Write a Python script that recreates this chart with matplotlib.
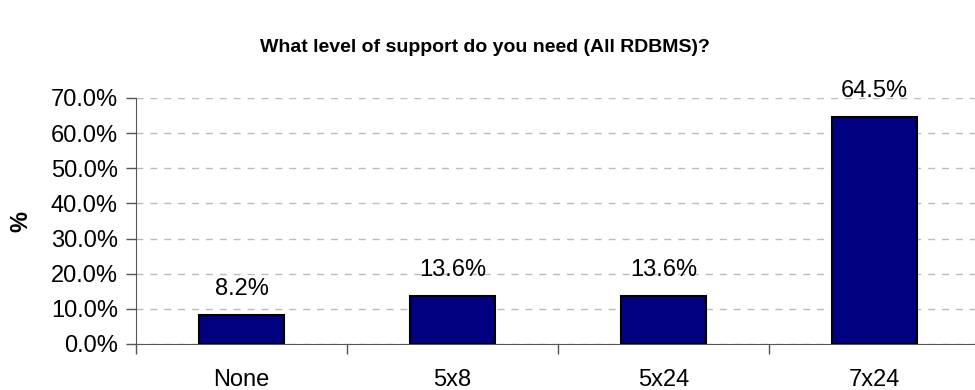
import matplotlib.pyplot as plt
from matplotlib.ticker import FuncFormatter

categories = ['None', '5x8', '5x24', '7x24']
values = [8.2, 13.6, 13.6, 64.5]
yticks = [0, 10, 20, 30, 40, 50, 60, 70]

plt.rcParams['font.family'] = ['Liberation Sans', 'DejaVu Sans']

fig = plt.figure(figsize=(9.75, 3.9), dpi=100)
ax = fig.add_axes([136 / 975, 1 - 344 / 390, (975 - 136) / 975, (344 - 98) / 390])

x = range(len(categories))
ax.bar(x, values, width=0.4, color='#000080', edgecolor='black', linewidth=1.5, zorder=3)

for i, v in enumerate(values):
    ax.annotate('%.1f%%' % v, (i, v), xytext=(0, 11), textcoords='offset points',
                ha='center', va='bottom', fontsize=17, clip_on=False)

ax.set_ylim(0, 70)
ax.set_xlim(-0.5, -0.5 + (975 - 136) / 211)
ax.set_yticks(yticks)
ax.yaxis.set_major_formatter(FuncFormatter(lambda v, p: '%.1f%%' % v))
ax.tick_params(axis='y', labelsize=17, length=7, width=1, color='#555555', pad=6)

# ticks between categories, labels centred under bars
ax.set_xticks([i - 0.5 for i in range(len(categories))])
ax.set_xticklabels([])
ax.set_xticks(list(x), minor=True)
ax.set_xticklabels(categories, minor=True)
ax.tick_params(axis='x', which='major', length=7, width=1, color='#555555')
ax.tick_params(axis='x', which='minor', length=0, labelsize=17, pad=18)

ax.yaxis.grid(True, linestyle=(0, (5, 5)), color='#bbbbbb', linewidth=1, zorder=0)
for s in ['top', 'right']:
    ax.spines[s].set_visible(False)
ax.spines['left'].set_color('#555555')
ax.spines['bottom'].set_color('#555555')

ax.set_ylabel('%', fontsize=17, fontweight='bold')
ax.yaxis.set_label_coords((32 - 136) / 839, 0.5)
fig.text(485 / 975, 1 - 47 / 390, 'What level of support do you need (All RDBMS)?',
         ha='center', va='center', fontsize=14, fontweight='bold')

fig.savefig('out.png', dpi=100)
